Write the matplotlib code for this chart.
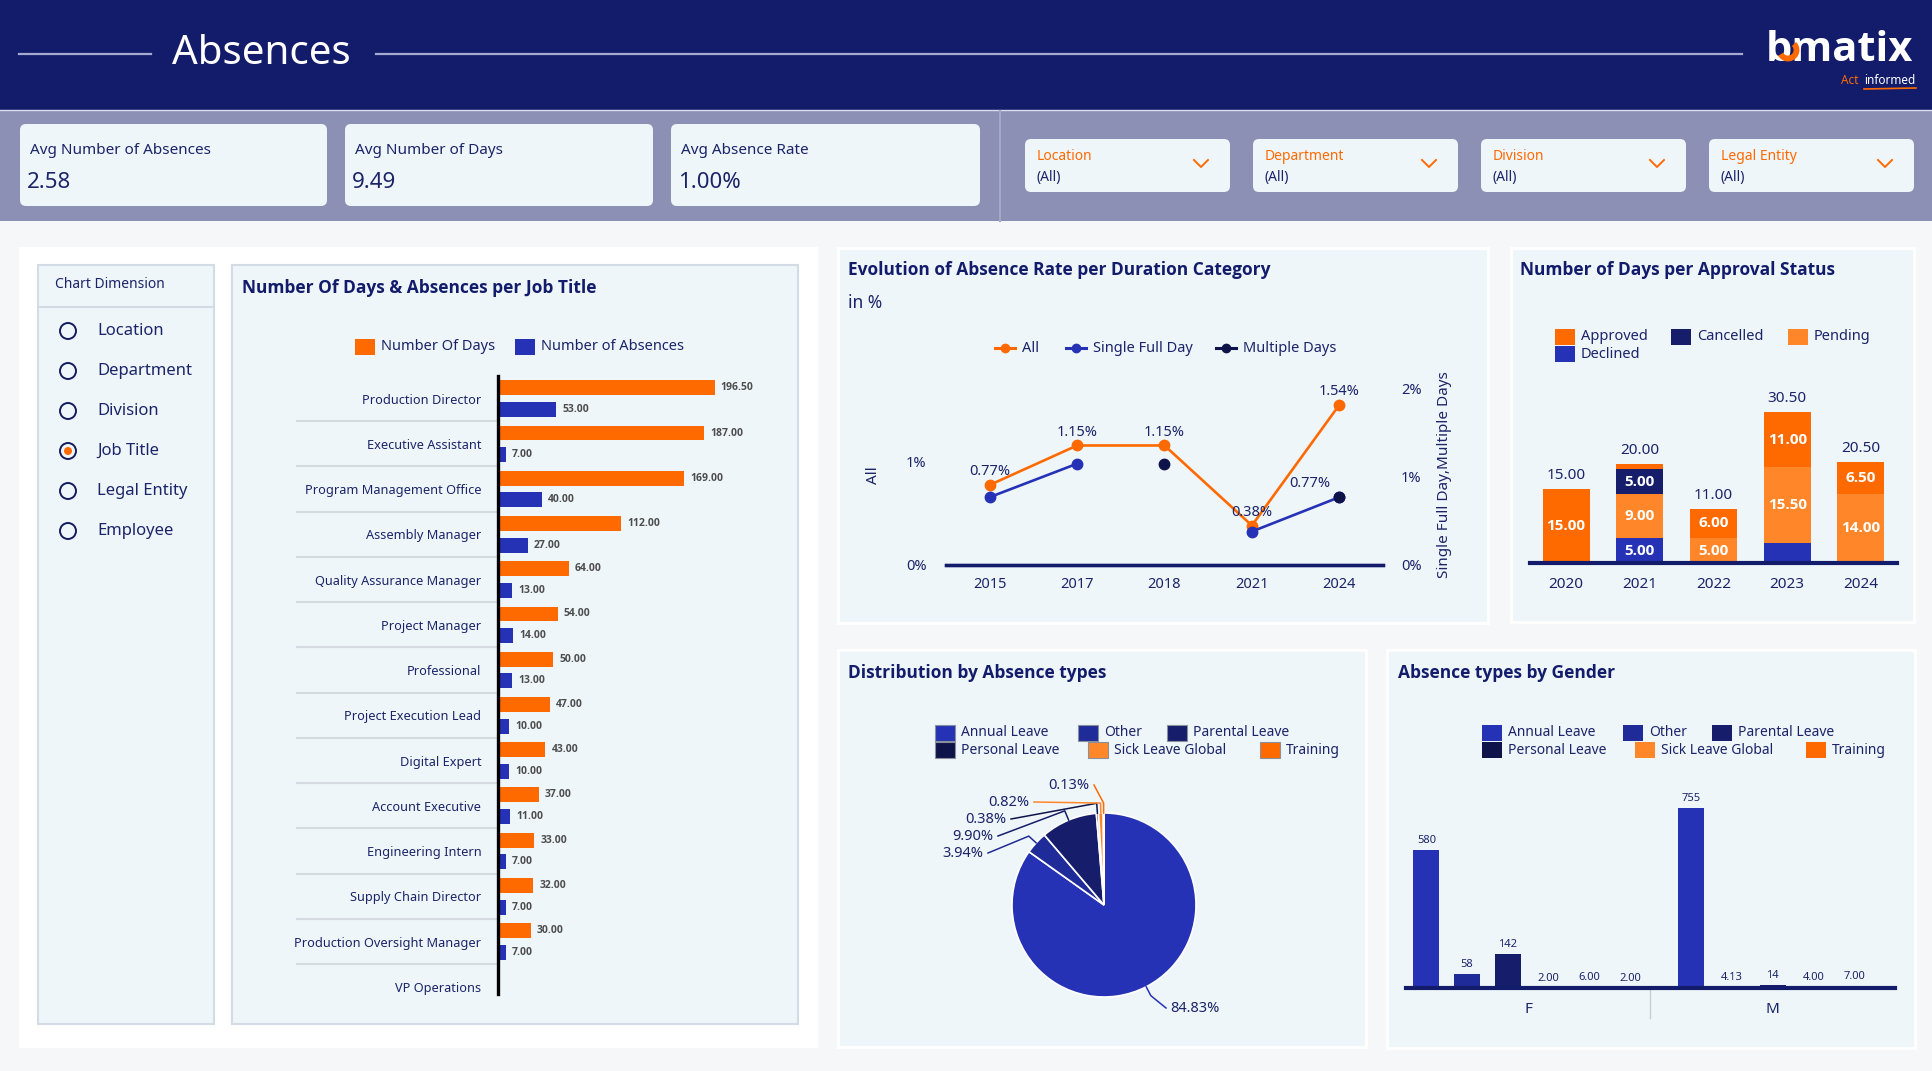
"""Absences dashboard - recreated with matplotlib."""
import matplotlib
matplotlib.use('Agg')
import matplotlib.pyplot as plt
from matplotlib import font_manager as fm
from matplotlib.patches import FancyBboxPatch, Rectangle, Circle, Arc
import numpy as np


def bold_family():
    # first installed family that actually ships a bold face
    for name in ['Noto Sans', 'Open Sans', 'Lato', 'Roboto', 'Inter', 'Liberation Sans']:
        for f in fm.fontManager.ttflist:
            w = f.weight
            if isinstance(w, str):
                w = fm.weight_dict.get(w, 400)
            if f.name == name and w >= 600:
                return name
    return 'DejaVu Sans'


BASE = ['Noto Sans', 'DejaVu Sans']
BOLD = [bold_family(), 'DejaVu Sans']
plt.rcParams['font.family'] = BASE

W, H = 1933, 1071

NAVY = '#121c6b'
TXT = '#1b2468'
ORANGE = '#ff6a00'
ORANGE_L = '#ff872a'
BLUE = '#2532b5'
BLUE2 = '#1f2b98'
NAVY2 = '#161d6a'
DARK = '#0e1449'
CARD = '#eff6fa'

# ---- data ----
kpi_titles = ['Avg Number of Absences', 'Avg Number of Days', 'Avg Absence Rate']
kpi_values = ['2.58', '9.49', '1.00%']
filter_names = ['Location', 'Department', 'Division', 'Legal Entity']
dimensions = ['Location', 'Department', 'Division', 'Job Title', 'Legal Entity', 'Employee']
selected_dim = 'Job Title'

job_titles = ['Production Director', 'Executive Assistant', 'Program Management Office',
              'Assembly Manager', 'Quality Assurance Manager', 'Project Manager',
              'Professional', 'Project Execution Lead', 'Digital Expert',
              'Account Executive', 'Engineering Intern', 'Supply Chain Director',
              'Production Oversight Manager', 'VP Operations']
job_days = [196.5, 187, 169, 112, 64, 54, 50, 47, 43, 37, 33, 32, 30, np.nan]
job_absences = [53, 7, 40, 27, 13, 14, 13, 10, 10, 11, 7, 7, 7, np.nan]

rate_years = ['2015', '2017', '2018', '2021', '2024']
rate_all = [0.77, 1.15, 1.15, 0.38, 1.54]
rate_single = [0.77, 1.15, np.nan, 0.38, 0.77]
rate_multiple = [np.nan, np.nan, 1.15, np.nan, 0.77]

appr_years = ['2020', '2021', '2022', '2023', '2024']
appr_declined = [0, 5, 0, 4, 0]
appr_pending = [0, 9, 5, 15.5, 14]
appr_cancelled = [0, 5, 0, 0, 0]
appr_approved = [15, 1, 6, 11, 6.5]

abs_types = ['Annual Leave', 'Other', 'Parental Leave', 'Personal Leave',
             'Sick Leave Global', 'Training']
abs_share = [84.83, 3.94, 9.90, 0.38, 0.82, 0.13]
genders = ['F', 'M']
gender_f = [580, 58, 142, 2, 6, 2]
gender_m = [755, 4.13, 14, 4, 7, np.nan]

type_colors = [BLUE, BLUE2, NAVY2, DARK, ORANGE_L, ORANGE]

# ---- figure / background canvas in pixel units ----
fig = plt.figure(figsize=(W / 100, H / 100), dpi=100)
bg = fig.add_axes([0, 0, 1, 1])
bg.set_xlim(0, W)
bg.set_ylim(H, 0)
bg.axis('off')


def box(x0, y0, x1, y1, fc, ec='none', lw=1, r=0):
    if r:
        p = FancyBboxPatch((x0, y0), x1 - x0, y1 - y0,
                           boxstyle=f'round,pad=0,rounding_size={r}',
                           fc=fc, ec=ec, lw=lw)
    else:
        p = Rectangle((x0, y0), x1 - x0, y1 - y0, fc=fc, ec=ec, lw=lw)
    bg.add_patch(p)


def px_axes(x0, y0, x1, y1):
    return fig.add_axes([x0 / W, 1 - y1 / H, (x1 - x0) / W, (y1 - y0) / H])


def legend_sq(x, y, color, label, fs=10, ec='none'):
    box(x, y - 8, x + 20, y + 8, color, ec=ec, lw=0.8)
    bg.text(x + 26, y, label, fontsize=fs, color=TXT, va='center')


def title(x, y, s):
    bg.text(x, y, s, fontsize=12.5, fontweight='bold', family=BOLD, color=NAVY, va='center')


box(0, 0, W, H, '#f6f7f9')
box(0, 0, W, 110, NAVY)
box(0, 110, W, 221, '#8b90b4')
bg.plot([0, W], [110, 110], color='#dcdef0', lw=1)
bg.plot([1000, 1000], [111, 221], color='#a5a9c8', lw=1.5)

# header
bg.text(172, 54, 'Absences', fontsize=29, color='white', va='center')
bg.plot([19, 151], [54, 54], color='#a6a9cf', lw=1.6)
bg.plot([376, 1742], [54, 54], color='#a6a9cf', lw=1.6)
bg.text(1766, 61, 'bmatix', fontsize=30, color='white', fontweight='bold', va='baseline',
        family=BOLD)
# orange swoosh on the bowl of the "b" (y axis is flipped, so angles are mirrored)
bg.add_patch(Arc((1788, 50), 17, 17, theta1=-45, theta2=150, color=ORANGE, lw=4.2,
                 zorder=5))
bg.text(1859, 80, 'Act', fontsize=8.5, color=ORANGE, ha='right', va='center')
bg.text(1864, 80, 'informed', fontsize=8.5, color='white', ha='left', va='center')
bg.plot([1864, 1916], [89, 88], color=ORANGE, lw=1.2)

# KPI cards
kpi_x = [(20, 327), (345, 653), (671, 980)]
for (x0, x1), t, v in zip(kpi_x, kpi_titles, kpi_values):
    box(x0, 124, x1, 206, CARD, r=6)
    bg.text(x0 + 10, 151, t, fontsize=11, color=TXT, va='center')
    bg.text(x0 + 7, 183, v, fontsize=16, color=TXT, va='center')

# filters
filt_x = [1025, 1253, 1481, 1709]
for x0, name in zip(filt_x, filter_names):
    box(x0, 139, x0 + 205, 192, CARD, r=6)
    bg.text(x0 + 12, 156, name, fontsize=10, color=ORANGE, va='center')
    bg.text(x0 + 12, 177, '(All)', fontsize=10, color=TXT, va='center')
    cx = x0 + 176
    bg.plot([cx - 7, cx, cx + 7], [160, 167, 160], color=ORANGE, lw=1.4)

# panels
box(19, 247, 818, 1048, 'white')
box(38, 265, 214, 1024, CARD, ec='#d3dbe5', lw=1.5)
box(232, 265, 798, 1024, CARD, ec='#d3dbe5', lw=1.5)
for (x0, y0, x1, y1) in [(838, 248, 1488, 623), (1511, 248, 1914, 622),
                         (838, 650, 1366, 1047), (1387, 650, 1915, 1048)]:
    box(x0, y0, x1, y1, CARD, ec='white', lw=2)

# chart dimension selector
bg.text(55, 284, 'Chart Dimension', fontsize=10, color=TXT, va='center')
bg.plot([39, 213], [307, 307], color='#d3dbe5', lw=1.5)
for i, d in enumerate(dimensions):
    y = 331 + 40 * i
    bg.add_patch(Circle((68, y), 8, fc='none', ec='#141c5e', lw=1.4))
    if d == selected_dim:
        bg.add_patch(Circle((68, y), 4, fc=ORANGE, ec='none'))
    bg.text(97, y, d, fontsize=12, color=TXT, va='center')

# ---- Number of days & absences per job title ----
title(242, 288, 'Number Of Days & Absences per Job Title')
legend_sq(355, 347, ORANGE, 'Number Of Days', fs=10.5)
legend_sq(515, 347, BLUE, 'Number of Absences', fs=10.5)

ax1 = px_axes(498, 376, 790, 994)
ax1.patch.set_alpha(0)
yy = np.arange(len(job_titles))
ax1.barh(yy - 0.24, job_days, height=0.33, color=ORANGE)
ax1.barh(yy + 0.24, job_absences, height=0.33, color=BLUE)
for i in range(len(job_titles)):
    for v, off in ((job_days[i], -0.24), (job_absences[i], 0.24)):
        if not np.isnan(v):
            ax1.annotate(f'{v:.2f}', (v, i + off), xytext=(6, 0), textcoords='offset pixels',
                         va='center', ha='left', fontsize=7.5, color='#4d4d4d',
                         fontweight='bold', family=BOLD)
for i in range(len(job_titles) - 1):
    ax1.plot([-0.69, 0], [i + 0.5, i + 0.5], transform=ax1.get_yaxis_transform(),
             clip_on=False, color='#d6dbe2', lw=1.5)
ax1.set_xlim(0, 265)
ax1.set_ylim(13.16, -0.5)
ax1.set_yticks(yy)
ax1.set_yticklabels(job_titles, fontsize=9.2, color=TXT)
ax1.set_xticks([])
ax1.tick_params(axis='y', length=0, pad=12)
for s in ('top', 'right', 'bottom'):
    ax1.spines[s].set_visible(False)
ax1.spines['left'].set_linewidth(2.4)
ax1.spines['left'].set_color('black')

# ---- Evolution of absence rate ----
title(848, 270, 'Evolution of Absence Rate per Duration Category')
bg.text(848, 303, 'in %', fontsize=12.5, color=TXT, va='center')
line_series = [('All', ORANGE, 1005), ('Single Full Day', BLUE, 1076),
               ('Multiple Days', DARK, 1226)]
for name, col, mx in line_series:
    bg.plot([mx - 10, mx + 10], [348, 348], color=col, lw=2.2)
    bg.plot([mx], [348], 'o', color=col, ms=6)
    bg.text(mx + 17, 348, name, fontsize=10.5, color=TXT, va='center')
bg.text(874, 475, 'All', fontsize=11, color=TXT, rotation=90, va='center', ha='center')
bg.text(1445, 475, 'Single Full Day,Multiple Days', fontsize=11, color=TXT,
        rotation=90, va='center', ha='center')

ax2 = px_axes(946, 380, 1383, 565)
ax2.patch.set_alpha(0)
ax2r = ax2.twinx()
xr = np.arange(len(rate_years))
ax2.plot(xr, rate_all, '-o', color=ORANGE, lw=1.9, ms=7.5, zorder=3)
ax2r.plot(xr, rate_single, '-o', color=BLUE, lw=1.9, ms=7.5)
ax2r.plot(xr, rate_multiple, 'o', color=DARK, ms=7.5)
for i, v in enumerate(rate_all):
    ax2.annotate(f'{v:.2f}%', (i, v), xytext=(0, 13), textcoords='offset pixels',
                 ha='center', va='center', fontsize=10.5, color=TXT)
ax2r.annotate(f'{rate_multiple[-1]:.2f}%', (4, rate_multiple[-1]), xytext=(-29, 14),
              textcoords='offset pixels', ha='center', va='center', fontsize=10.5, color=TXT)
ax2.set_xlim(-0.5, 4.5)
ax2.set_ylim(0, 1.78)
ax2r.set_ylim(0, 2.10)
ax2.set_xticks(xr)
ax2.set_xticklabels(rate_years)
ax2.set_yticks([0, 1])
ax2.set_yticklabels(['0%', '1%'])
ax2r.set_yticks([0, 1, 2])
ax2r.set_yticklabels(['0%', '1%', '2%'])
ax2.tick_params(axis='x', length=0, pad=9, labelsize=10.5, labelcolor=TXT)
ax2.tick_params(axis='y', length=0, pad=14, labelsize=10.5, labelcolor=TXT)
ax2r.tick_params(axis='y', length=0, pad=13, labelsize=10.5, labelcolor=TXT)
for a in (ax2, ax2r):
    for s in ('top', 'right', 'left'):
        a.spines[s].set_visible(False)
    a.spines['bottom'].set_linewidth(2.4)
    a.spines['bottom'].set_color(NAVY)

# ---- Number of days per approval status ----
title(1520, 270, 'Number of Days per Approval Status')
legend_sq(1555, 337, ORANGE, 'Approved', fs=10.5)
legend_sq(1671, 337, NAVY2, 'Cancelled', fs=10.5)
legend_sq(1788, 337, ORANGE_L, 'Pending', fs=10.5)
legend_sq(1555, 354, BLUE, 'Declined', fs=10.5)

ax3 = px_axes(1530, 400, 1897, 563)
ax3.patch.set_alpha(0)
xa = np.arange(len(appr_years))
bottom = np.zeros(len(appr_years))
for vals, col in ((appr_declined, BLUE), (appr_pending, ORANGE_L),
                  (appr_cancelled, NAVY2), (appr_approved, ORANGE)):
    vals = np.array(vals, dtype=float)
    ax3.bar(xa, vals, 0.64, bottom=bottom, color=col, lw=0)
    for i, v in enumerate(vals):
        if v >= 5:
            ax3.text(i, bottom[i] + v / 2, f'{v:.2f}', ha='center', va='center',
                     color='white', fontsize=11, fontweight='bold', family=BOLD)
    bottom += vals
for i, tot in enumerate(bottom):
    ax3.annotate(f'{tot:.2f}', (i, tot), xytext=(0, 6), textcoords='offset pixels',
                 ha='center', va='bottom', fontsize=11, color=TXT)
ax3.set_xlim(-0.49, 4.49)
ax3.set_ylim(0, 33)
ax3.set_xticks(xa)
ax3.set_xticklabels(appr_years)
ax3.set_yticks([])
ax3.tick_params(axis='x', length=0, pad=10, labelsize=11, labelcolor=TXT)
for s in ('top', 'right', 'left'):
    ax3.spines[s].set_visible(False)
ax3.spines['bottom'].set_linewidth(3)
ax3.spines['bottom'].set_color(NAVY)

# ---- Distribution by absence types (pie) ----
title(848, 673, 'Distribution by Absence types')
pie_leg = [(935, 733), (1078, 733), (1167, 733), (935, 750), (1088, 750), (1260, 750)]
for (lx, ly), name, col in zip(pie_leg, abs_types, type_colors):
    legend_sq(lx, ly, col, name, fs=10, ec='#8a8f9c')

ax4 = px_axes(954, 755, 1254, 1055)
ax4.patch.set_alpha(0)
R = 92
ax4.pie(abs_share, colors=type_colors, startangle=90, counterclock=False, radius=R,
        wedgeprops=dict(edgecolor='white', linewidth=1.2))
ax4.set_xlim(-150, 150)
ax4.set_ylim(-150, 150)
label_anchor = [(66, -103, 'left'), (-121, 52, 'right'), (-111, 69, 'right'),
                (-98, 86, 'right'), (-75, 103, 'right'), (-15, 120, 'right')]
theta = 90.0
for p, col, (lx, ly, ha) in zip(abs_share, type_colors, label_anchor):
    t1 = theta - p * 3.6
    mid = np.deg2rad((theta + t1) / 2)
    theta = t1
    sx, sy = R * np.cos(mid), R * np.sin(mid)
    ex, ey = (R + 10) * np.cos(mid), (R + 10) * np.sin(mid)
    tx = lx + 5 if ha == 'right' else lx - 4
    ax4.plot([sx, ex, tx], [sy, ey, ly], color=col, lw=1.1, clip_on=False)
    ax4.text(lx, ly, f'{p:.2f}%', ha=ha, va='center', fontsize=10.5, color=TXT)

# ---- Absence types by gender ----
title(1398, 673, 'Absence types by Gender')
gen_leg = [(1482, 733), (1623, 733), (1712, 733), (1482, 750), (1635, 750), (1806, 750)]
for (lx, ly), name, col in zip(gen_leg, abs_types, type_colors):
    legend_sq(lx, ly, col, name, fs=10)

ax5 = px_axes(1406, 790, 1895, 988)
ax5.patch.set_alpha(0)
group_centers = [2.5, 8.5]
for gc, vals in zip(group_centers, (gender_f, gender_m)):
    idx = [k for k, v in enumerate(vals) if not np.isnan(v)]
    pos = gc - (len(idx) - 1) / 2 + np.arange(len(idx))
    for x, k in zip(pos, idx):
        v = vals[k]
        ax5.bar(x, v, 0.64, color=type_colors[k], lw=0)
        lab = f'{v:.0f}' if v >= 10 else f'{v:.2f}'
        ax5.annotate(lab, (x, v), xytext=(0, 4), textcoords='offset pixels',
                     ha='center', va='bottom', fontsize=8, color=TXT)
ax5.plot([5.5, 5.5], [0, -0.15], transform=ax5.get_xaxis_transform(), clip_on=False,
         color='#c9cdd6', lw=1)
ax5.set_xlim(-0.5, 11.5)
ax5.set_ylim(0, 832)
ax5.set_xticks(group_centers)
ax5.set_xticklabels(genders)
ax5.set_yticks([])
ax5.tick_params(axis='x', length=0, pad=10, labelsize=11, labelcolor=TXT)
for s in ('top', 'right', 'left'):
    ax5.spines[s].set_visible(False)
ax5.spines['bottom'].set_linewidth(3)
ax5.spines['bottom'].set_color(NAVY)

fig.savefig('out.png', dpi=100)
